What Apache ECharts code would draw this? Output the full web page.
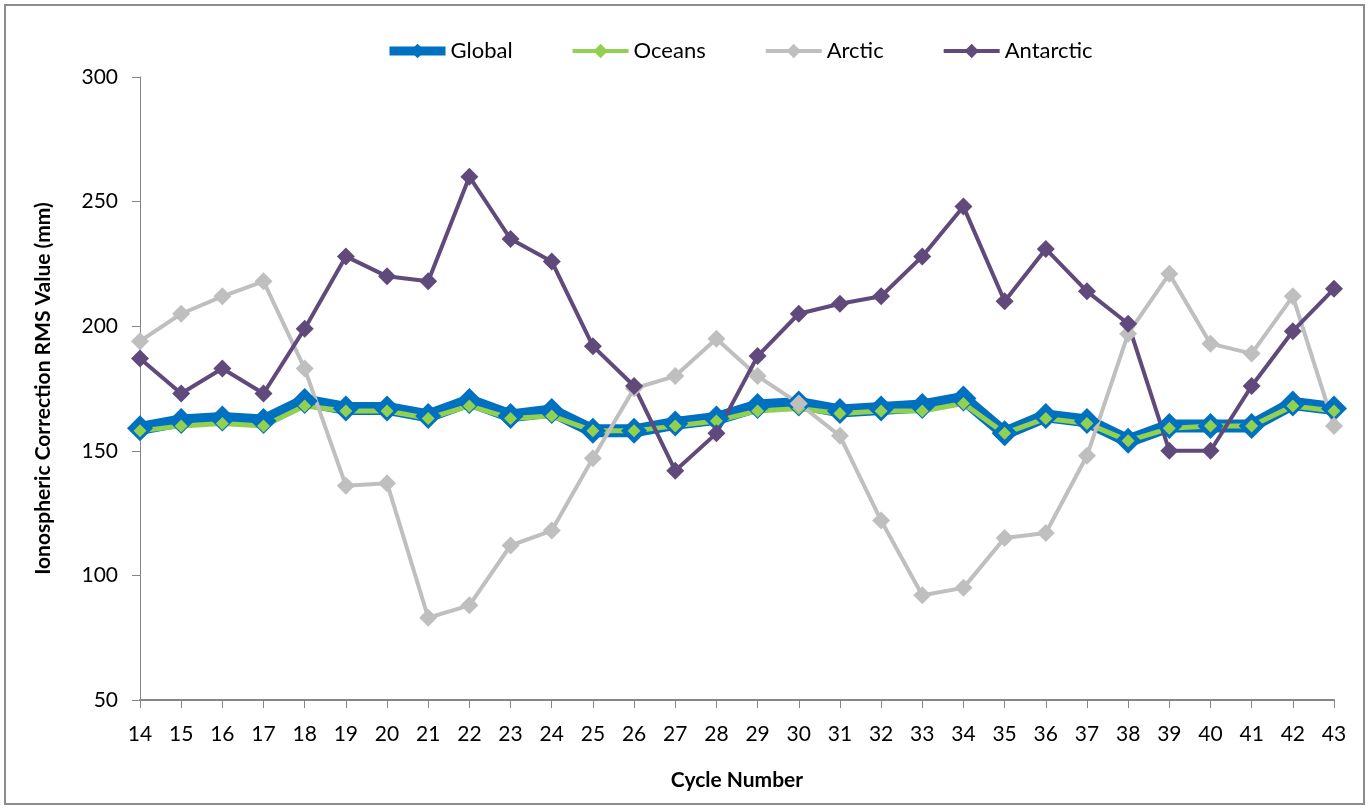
<!DOCTYPE html>
<html>
<head>
<meta charset="utf-8">
<script src="https://cdn.jsdelivr.net/npm/echarts@6/dist/echarts.min.js"></script>
<style>
  html, body { margin: 0; padding: 0; background: #fff; }
  #chart { width: 1370px; height: 809px; }
</style>
</head>
<body>
<div id="chart"></div>
<script>
// cycle numbers on the x axis
const cycles = ['14','15','16','17','18','19','20','21','22','23','24','25','26','27','28',
                '29','30','31','32','33','34','35','36','37','38','39','40','41','42','43']

// RMS values (mm)
const globalVals    = [159,162,163,162,170,167,167,164,170,164,166,158,158,161,163,168,169,166,167,168,171,157,164,162,154,160,160,160,169,167]
const oceansVals    = [158,160,161,160,168,166,166,163,168,163,164,158,158,160,162,166,167,165,166,166,169,157,163,161,154,159,160,160,168,166]
const arcticVals    = [194,205,212,218,183,136,137,83,88,112,118,147,175,180,195,180,169,156,122,92,95,115,117,148,197,221,193,189,212,160]
const antarcticVals = [187,173,183,173,199,228,220,218,260,235,226,192,176,142,157,188,205,209,212,228,248,210,231,214,201,150,150,176,198,215]

const font = 'Lato, "Open Sans", sans-serif'

const chart = echarts.init(document.getElementById('chart'))

const lineSeries = (name, data, color, width, size) => ({
  name: name,
  type: 'line',
  data: data,
  symbol: 'diamond',
  symbolSize: size,
  showAllSymbol: true,
  lineStyle: { color: color, width: width },
  itemStyle: { color: color, borderWidth: 0 },
  emphasis: { disabled: true },
  animation: false
})

chart.setOption({
  backgroundColor: '#fff',
  graphic: [{
    type: 'rect',
    shape: { x: 5, y: 5, width: 1359, height: 799 },
    style: { fill: 'none', stroke: '#8c8c8c', lineWidth: 2 },
    silent: true
  }],
  legend: {
    top: 35,
    left: 380,
    itemWidth: 56,
    itemHeight: 18,
    itemGap: 58,
    textStyle: { fontFamily: font, fontSize: 22, color: '#000' },
    data: [
      { name: 'Global', lineStyle: { width: 9 } },
      { name: 'Oceans', lineStyle: { width: 4 } },
      { name: 'Arctic', lineStyle: { width: 4 } },
      { name: 'Antarctic', lineStyle: { width: 4 } }
    ]
  },
  grid: { left: 140, right: 36, top: 77, bottom: 109, containLabel: false },
  xAxis: {
    type: 'category',
    data: cycles,
    boundaryGap: false,
    name: 'Cycle Number',
    nameLocation: 'middle',
    nameGap: 70,
    nameTextStyle: { fontFamily: font, fontSize: 21, fontWeight: 'bold', color: '#000' },
    axisLine: { show: true, lineStyle: { color: '#868686', width: 2 } },
    axisTick: { show: true, length: 8, lineStyle: { color: '#868686', width: 1 } },
    axisLabel: { fontFamily: font, fontSize: 21, color: '#000', margin: 24, interval: 0 },
    splitLine: { show: false }
  },
  yAxis: {
    type: 'value',
    min: 50,
    max: 300,
    interval: 50,
    name: 'Ionospheric Correction RMS Value (mm)',
    nameLocation: 'middle',
    nameGap: 86,
    nameTextStyle: { fontFamily: font, fontSize: 21, fontWeight: 'bold', color: '#000' },
    axisLine: { show: true, lineStyle: { color: '#868686', width: 1 } },
    axisTick: { show: true, length: 8, lineStyle: { color: '#868686' } },
    axisLabel: { fontFamily: font, fontSize: 21, color: '#000', margin: 22 },
    splitLine: { show: false }
  },
  series: [
    lineSeries('Global', globalVals, '#0070C0', 13, 26),
    lineSeries('Oceans', oceansVals, '#92D050', 5, 13),
    lineSeries('Arctic', arcticVals, '#BFBFBF', 4, 18),
    lineSeries('Antarctic', antarcticVals, '#604A7B', 4, 18)
  ]
})
</script>
</body>
</html>
